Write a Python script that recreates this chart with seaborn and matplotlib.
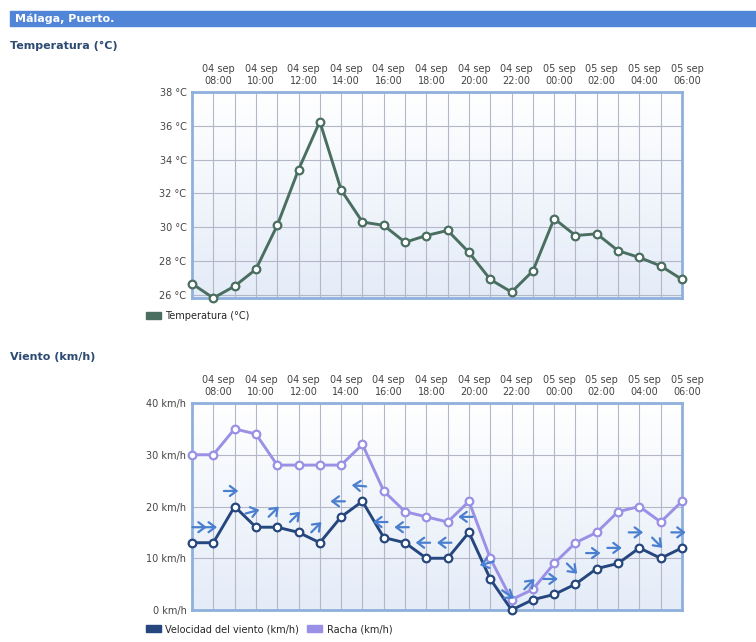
import matplotlib
matplotlib.use('Agg')
import matplotlib.pyplot as plt
import matplotlib.transforms as mtransforms
from matplotlib.colors import LinearSegmentedColormap
from matplotlib.patches import Patch, Rectangle
import numpy as np
import pandas as pd
import seaborn as sns

# datos horarios (04 sep 07:00 -> 05 sep 06:00)
fechas = ['04 sep'] * 17 + ['05 sep'] * 7
horas = ['07:00', '08:00', '09:00', '10:00', '11:00', '12:00', '13:00', '14:00',
         '15:00', '16:00', '17:00', '18:00', '19:00', '20:00', '21:00', '22:00',
         '23:00', '00:00', '01:00', '02:00', '03:00', '04:00', '05:00', '06:00']
temperatura = [26.65, 25.8, 26.5, 27.5, 30.1, 33.4, 36.25, 32.2, 30.3, 30.1, 29.1, 29.5,
               29.8, 28.5, 26.9, 26.15, 27.4, 30.5, 29.5, 29.6, 28.6, 28.2, 27.7, 26.9]
velocidad = [13, 13, 20, 16, 16, 15, 13, 18, 21, 14, 13, 10,
             10, 15, 6, 0, 2, 3, 5, 8, 9, 12, 10, 12]
racha = [30, 30, 35, 34, 28, 28, 28, 28, 32, 23, 19, 18,
         17, 21, 10, 2, 4, 9, 13, 15, 19, 20, 17, 21]
# angulo de la flecha (grados, 0 = hacia la derecha)
direccion = [0, 0, 0, 15, 45, 45, 45, 180, 175, 180, 180, 180,
             180, 180, 195, -35, 45, 0, -45, 0, 0, 0, -45, 0]

temp_ticks = [26, 28, 30, 32, 34, 36, 38]
viento_ticks = [0, 10, 20, 30, 40]

df = pd.DataFrame({'x': np.arange(len(horas)), 'temp': temperatura,
                   'vel': velocidad, 'racha': racha})

sns.set_theme(style='white')
plt.rcParams['font.family'] = ['DejaVu Sans']

W, H = 756, 642
fig = plt.figure(figsize=(W / 100, H / 100), dpi=100)

c_temp = '#4a6e60'
c_vel = '#26467e'
c_racha = '#9a90e6'
c_borde = '#8fb0dc'
c_titulo = '#2c4a72'

fondo = LinearSegmentedColormap.from_list('fondo', ['#ffffff', '#e4ecf8'])


def preparar(ax, ymin, ymax, ticks, unidad):
    n = len(horas)
    ax.imshow(np.linspace(0, 1, 256).reshape(-1, 1), extent=[0, n - 1, ymin, ymax],
              aspect='auto', cmap=fondo, zorder=0)
    ax.set_xlim(0, n - 1)
    ax.set_ylim(ymin, ymax)
    ax.xaxis.tick_top()
    ax.set_xticks(range(n))
    etiquetas = [f'{f}\n{h}' if i % 2 == 1 else '' for i, (f, h) in enumerate(zip(fechas, horas))]
    ax.set_xticklabels(etiquetas, fontsize=7, color='#444444', linespacing=1.25)
    ax.set_yticks(ticks)
    ax.set_yticklabels([f'{t} {unidad}' for t in ticks], fontsize=7, color='#444444')
    ax.tick_params(length=0, pad=4)
    desplaza = mtransforms.ScaledTranslation(5 / 100, 0, fig.dpi_scale_trans)
    for lbl in ax.get_xticklabels():
        lbl.set_transform(lbl.get_transform() + desplaza)
    ax.grid(True, color='#b4b7c8', linewidth=0.8)
    ax.set_axisbelow(True)
    for s in ax.spines.values():
        s.set_color(c_borde)
        s.set_linewidth(2)
    ax.set_xlabel('')
    ax.set_ylabel('')


# cabecera
fig.patches.append(Rectangle((10 / W, 1 - 26 / H), 746 / W, 15 / H,
                             transform=fig.transFigure, color='#5185d8', zorder=0))
fig.text(15 / W, 1 - 18.5 / H, 'Málaga, Puerto.', color='white', fontsize=8,
         fontweight='bold', va='center')

# temperatura
fig.text(10 / W, 1 - 46 / H, 'Temperatura (°C)', color=c_titulo, fontsize=8,
         fontweight='bold', va='center')
ax1 = fig.add_axes([192 / W, 1 - 298 / H, 490 / W, 206 / H])
preparar(ax1, 25.8, 38, temp_ticks, '°C')
sns.lineplot(data=df, x='x', y='temp', ax=ax1, color=c_temp, linewidth=2.1,
             marker='o', markersize=5.5, markerfacecolor='white',
             markeredgecolor=c_temp, markeredgewidth=1.6, legend=False, zorder=3, clip_on=False)
ax1.set_xlabel('')
ax1.set_ylabel('')
ax1.legend(handles=[Patch(color=c_temp, label='Temperatura (°C)')], loc='upper left',
           bbox_to_anchor=(146 / W, 1 - 311 / H), bbox_transform=fig.transFigure,
           frameon=False, fontsize=7, handlelength=1.5, handleheight=0.8,
           handletextpad=0.5, borderpad=0, borderaxespad=0)

# viento
fig.text(10 / W, 1 - 357 / H, 'Viento (km/h)', color=c_titulo, fontsize=8,
         fontweight='bold', va='center')
ax2 = fig.add_axes([192 / W, 1 - 610 / H, 490 / W, 207 / H])
preparar(ax2, 0, 40, viento_ticks, 'km/h')
sns.lineplot(data=df, x='x', y='racha', ax=ax2, color=c_racha, linewidth=2.1,
             marker='o', markersize=5.5, markerfacecolor='white',
             markeredgecolor=c_racha, markeredgewidth=1.6, legend=False, zorder=3, clip_on=False)
sns.lineplot(data=df, x='x', y='vel', ax=ax2, color=c_vel, linewidth=2.1,
             marker='o', markersize=5.5, markerfacecolor='white',
             markeredgecolor=c_vel, markeredgewidth=1.6, legend=False, zorder=4, clip_on=False)
ax2.set_xlabel('')
ax2.set_ylabel('')

# flechas de direccion, 3 km/h por encima de la velocidad
mitad = 5.2
for i, (x, v, ang) in enumerate(zip(df['x'], velocidad, direccion)):
    dx = mitad * np.cos(np.radians(ang))
    dy = mitad * np.sin(np.radians(ang))
    corr = 5.5 if i == 0 else -2.5  # la primera queda dentro del area
    punta = mtransforms.offset_copy(ax2.transData, fig=fig, x=dx + corr, y=dy, units='points')
    cola = mtransforms.offset_copy(ax2.transData, fig=fig, x=-dx + corr, y=-dy, units='points')
    ax2.annotate('', xy=(x, v + 3), xycoords=punta, xytext=(x, v + 3), textcoords=cola,
                 arrowprops=dict(arrowstyle='->,head_length=0.4,head_width=0.3',
                                 color='#4a7fd0', lw=1.6, shrinkA=0, shrinkB=0),
                 zorder=5, annotation_clip=False)

ax2.legend(handles=[Patch(color=c_vel, label='Velocidad del viento (km/h)'),
                    Patch(color=c_racha, label='Racha (km/h)')], loc='upper left',
           bbox_to_anchor=(146 / W, 1 - 624 / H), bbox_transform=fig.transFigure,
           frameon=False, fontsize=7, ncol=2, handlelength=1.5, handleheight=0.8,
           handletextpad=0.5, columnspacing=0.8, borderpad=0, borderaxespad=0)

fig.savefig('out.png', dpi=100)
